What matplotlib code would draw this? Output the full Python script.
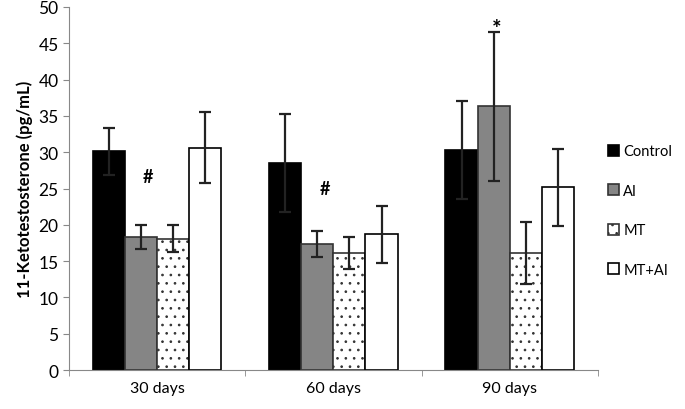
import matplotlib
matplotlib.use("Agg")
import matplotlib.pyplot as plt
import numpy as np

plt.rcParams["font.family"] = ["Lato", "DejaVu Sans"]
plt.rcParams["hatch.color"] = "#777777"
plt.rcParams["hatch.linewidth"] = 0.7

periods = ["30 days", "60 days", "90 days"]
groups = ["Control", "AI", "MT", "MT+AI"]

means = {
    "Control": [30.1, 28.5, 30.3],
    "AI": [18.3, 17.4, 36.3],
    "MT": [18.1, 16.1, 16.1],
    "MT+AI": [30.6, 18.7, 25.2],
}
errors = {
    "Control": [3.3, 6.8, 6.7],
    "AI": [1.7, 1.8, 10.2],
    "MT": [1.9, 2.2, 4.3],
    "MT+AI": [4.9, 3.9, 5.3],
}
# significance marks: (period index, x offset in category units, y, text, size)
marks = [(0, -0.05, 26.7, "#", 13), (1, -0.05, 25.0, "#", 13), (2, -0.075, 47.0, "*", 16)]

styles = {
    "Control": dict(color="black", edgecolor="black"),
    "AI": dict(color="#858585", edgecolor="#333333"),
    "MT": dict(color="white", edgecolor="#333333", hatch=".."),
    "MT+AI": dict(color="white", edgecolor="black"),
}

fig = plt.figure(figsize=(6.85, 4.1), dpi=100)
ax = fig.add_axes([0.1007, 0.0951, 0.772, 0.8854])

x = np.arange(len(periods))
w = 0.182
for i, g in enumerate(groups):
    pos = x + (i - 1.5) * w
    ax.bar(pos, means[g], w, yerr=errors[g], linewidth=1.2,
           error_kw=dict(ecolor="#222222", elinewidth=1.6, capsize=4, capthick=1.6),
           label=g, **styles[g])

for pi, dx, y, t, fs in marks:
    ax.text(x[pi] + dx, y, t, ha="center", va="center", fontsize=fs, fontweight="bold")

ax.set_xlim(-0.5, 2.5)
ax.set_ylim(0, 50)
ax.set_yticks(range(0, 51, 5))
ax.set_xticks(x)
ax.set_xticklabels(periods)
ax.set_xticks([-0.5, 0.5, 1.5, 2.5], minor=True)
ax.tick_params(axis="x", which="major", length=0, labelsize=11.5, pad=8)
ax.tick_params(axis="x", which="minor", length=4, color="#888888")
ax.tick_params(axis="y", length=4, color="#888888", labelsize=12.5)
ax.set_ylabel("11-Ketotestosterone (pg/mL)", fontsize=12, fontweight="bold")
for s in ["top", "right"]:
    ax.spines[s].set_visible(False)
for s in ["left", "bottom"]:
    ax.spines[s].set_color("#888888")

ax.legend(loc="upper left", bbox_to_anchor=(1.0, 0.65), frameon=False,
          fontsize=10.5, handlelength=0.75, handleheight=0.75, handletextpad=0.3,
          labelspacing=1.75, borderaxespad=0.3)

fig.savefig("out.png", dpi=100)
